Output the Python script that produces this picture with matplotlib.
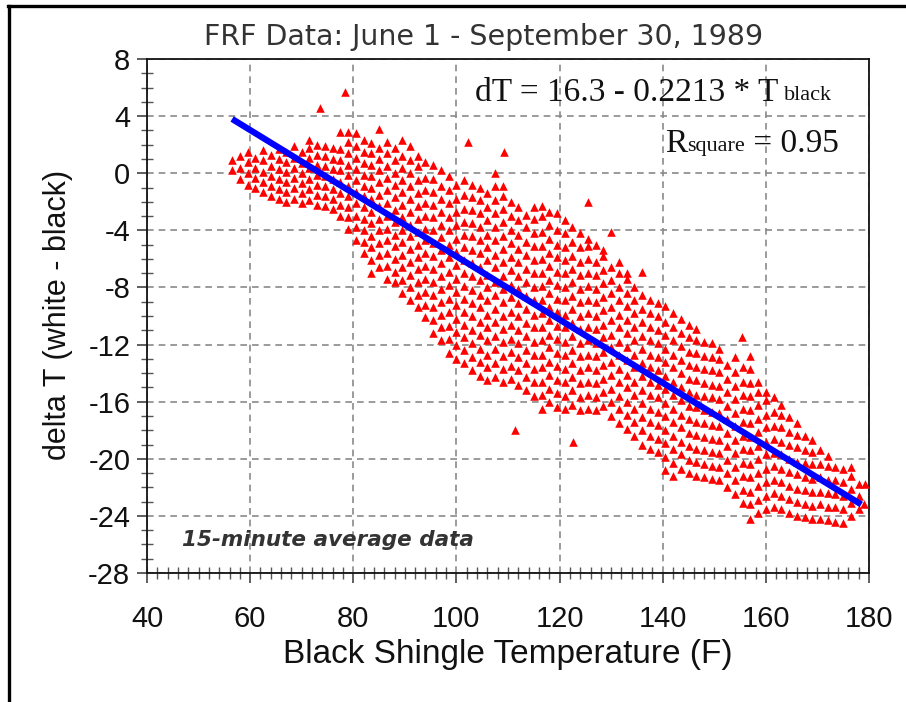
import numpy as np
import matplotlib
matplotlib.use("Agg")
import matplotlib.pyplot as plt
from matplotlib.lines import Line2D
from matplotlib.ticker import MultipleLocator

plt.rcParams['font.family'] = ['Liberation Sans', 'DejaVu Sans']
plt.rcParams['axes.unicode_minus'] = False

# black shingle temperature (F) of each scan column
temp_cols = [56.5, 58, 59.5, 61, 62.5, 64, 65.5, 67, 68.5, 70, 71.5, 73, 74.5, 76,
             77.5, 79, 80.5, 82, 83.5, 85, 86.5, 88, 89.5, 91, 92.5, 94, 95.5, 97,
             98.5, 100, 101.5, 103, 104.5, 106, 107.5, 109, 110.5, 112, 113.5, 115,
             116.5, 118, 119.5, 121, 122.5, 124, 125.5, 127, 128.5, 130, 131.5, 133,
             134.5, 136, 137.5, 139, 140.5, 142, 143.5, 145, 146.5, 148, 149.5, 151,
             152.5, 154, 155.5, 157, 158.5, 160, 161.5, 163, 164.5, 166, 167.5, 169,
             170.5, 172, 173.5, 175, 176.5, 178]

# delta T (white - black) values in each column
delta_cols = [
    [0.2, 0.9],                                                      # 56.5
    [-0.4, 0.4, 1.2],                                                # 58
    [-0.8, 0.0, 0.8, 1.5],                                           # 59.5
    [-1.0, -0.3, 0.4, 1.1],                                          # 61
    [-1.3, -0.6, 0.1, 0.9, 1.6],                                     # 62.5
    [-1.6, -0.9, -0.2, 0.5, 1.3],                                    # 64
    [-1.8, -1.1, -0.4, 0.3, 1.0, 1.7],                               # 65.5
    [-2.0, -1.3, -0.6, 0.1, 0.8, 1.5],                               # 67
    [-1.8, -1.0, -0.3, 0.4, 1.1, 1.9],                               # 68.5
    [-2.1, -1.4, -0.7, 0.0, 0.7, 1.5],                               # 70
    [-1.9, -1.1, -0.4, 0.4, 1.1, 1.8, 2.3],                          # 71.5
    [-2.2, -1.5, -0.8, -0.1, 0.6, 1.3, 2.0],                         # 73
    [-2.3, -1.6, -0.9, -0.2, 0.5, 1.2, 1.9],                         # 74.5
    [-2.5, -1.8, -1.1, -0.4, 0.3, 1.0, 1.8],                         # 76
    [-3.0, -2.2, -1.4, -0.6, 0.2, 0.9, 1.7, 2.9],                    # 77.5
    [-3.9, -3.1, -2.4, -1.6, -0.9, -0.1, 0.6, 1.4, 2.2, 2.9],        # 79
    [-4.7, -3.8, -3.0, -2.1, -1.3, -0.5, 0.3, 1.1, 1.9, 2.8],        # 80.5
    [-5.6, -4.8, -4.0, -3.2, -2.4, -1.6, -0.9, -0.1, 0.7, 1.5, 2.3], # 82
    [-7.0, -6.1, -5.2, -4.4, -3.5, -2.7, -1.8, -1.0, -0.2, 0.6, 1.4, 2.1],
    [-6.6, -5.7, -4.9, -4.0, -3.2, -2.3, -1.5, -0.6, 0.2, 1.0, 1.8, 3.1],
    [-7.4, -6.5, -5.6, -4.7, -3.9, -3.0, -2.1, -1.2, -0.3, 0.5, 1.4, 2.2],
    [-7.6, -6.9, -6.0, -5.1, -4.3, -3.4, -2.6, -1.7, -0.8, 0.0, 0.9, 1.8],
    [-8.4, -7.5, -6.6, -5.7, -4.8, -4.0, -3.1, -2.2, -1.3, -0.5, 0.4, 1.2, 2.3],
    [-8.9, -8.0, -7.1, -6.2, -5.3, -4.4, -3.6, -2.7, -1.8, -0.9, 0.0, 0.9, 1.9],
    [-9.4, -8.5, -7.6, -6.7, -5.9, -5.0, -4.1, -3.2, -2.3, -1.4, -0.5, 0.5, 1.2],
    [-10.1, -9.2, -8.3, -7.4, -6.5, -5.6, -4.7, -3.9, -3.0, -2.1, -1.2, -0.3, 0.8],
    [-11.2, -10.3, -9.4, -8.5, -7.6, -6.7, -5.8, -4.9, -4.0, -3.1, -2.2, -1.3, -0.4, 0.6],
    [-11.7, -10.8, -9.9, -9.0, -8.1, -7.2, -6.3, -5.4, -4.5, -3.6, -2.7, -1.8, -0.9, 0.2],
    [-12.6, -11.6, -10.7, -9.7, -8.8, -7.8, -6.9, -5.9, -5.0, -4.0, -3.1, -2.1, -1.2, -0.2],
    [-13.0, -12.0, -11.1, -10.2, -9.2, -8.3, -7.4, -6.4, -5.5, -4.6, -3.6, -2.7, -1.8, -0.8],
    [-13.3, -12.4, -11.5, -10.6, -9.7, -8.8, -7.9, -7.0, -6.1, -5.2, -4.3, -3.4, -2.5, -1.5, -0.5],
    [-13.8, -12.9, -11.9, -11.0, -10.0, -9.1, -8.2, -7.2, -6.3, -5.4, -4.4, -3.5, -2.6, -1.7, -0.8],
    [-14.2, -13.2, -12.3, -11.3, -10.4, -9.4, -8.5, -7.5, -6.6, -5.6, -4.7, -3.8, -2.8, -1.9, -1.0],
    [-14.5, -13.6, -12.7, -11.7, -10.8, -9.9, -8.9, -8.0, -7.1, -6.1, -5.2, -4.3, -3.3, -2.4, -1.4],
    [-14.3, -13.3, -12.3, -11.4, -10.4, -9.5, -8.5, -7.6, -6.6, -5.7, -4.7, -3.8, -2.8, -1.9, -0.9, 0.0],
    [-14.6, -13.7, -12.8, -11.8, -10.9, -10.0, -9.0, -8.1, -7.2, -6.2, -5.3, -4.4, -3.4, -2.5, -1.6, -0.9],
    [-14.4, -13.5, -12.5, -11.6, -10.6, -9.7, -8.7, -7.8, -6.8, -5.9, -4.9, -4.0, -3.0, -2.0],
    [-14.8, -13.8, -12.9, -11.9, -11.0, -10.0, -9.1, -8.1, -7.2, -6.2, -5.3, -4.3, -3.3, -2.4],
    [-15.2, -14.3, -13.3, -12.4, -11.4, -10.5, -9.5, -8.6, -7.6, -6.7, -5.7, -4.8, -3.8, -2.9],
    [-15.6, -14.6, -13.7, -12.7, -11.8, -10.8, -9.9, -8.9, -8.0, -7.0, -6.1, -5.1, -4.2, -3.2, -2.4],
    [-16.5, -15.5, -14.6, -13.6, -12.7, -11.7, -10.8, -9.8, -8.9, -7.9, -7.0, -6.0, -5.1, -4.1, -3.0, -2.3],
    [-16.0, -15.1, -14.1, -13.2, -12.2, -11.3, -10.3, -9.4, -8.4, -7.5, -6.5, -5.6, -4.6, -3.6, -2.7],
    [-16.4, -15.4, -14.5, -13.5, -12.6, -11.6, -10.7, -9.7, -8.8, -7.8, -6.9, -5.9, -5.0, -4.0, -2.8],
    [-16.5, -15.6, -14.6, -13.7, -12.7, -11.8, -10.8, -9.9, -8.9, -8.0, -7.0, -6.1, -5.2, -4.2, -3.3],
    [-16.2, -15.2, -14.3, -13.3, -12.4, -11.4, -10.5, -9.5, -8.6, -7.6, -6.7, -5.8, -4.8, -3.8],
    [-16.6, -15.7, -14.7, -13.8, -12.8, -11.9, -10.9, -10.0, -9.0, -8.1, -7.1, -6.2, -5.2, -4.2],
    [-16.5, -15.5, -14.6, -13.6, -12.7, -11.7, -10.8, -9.8, -8.9, -7.9, -7.0, -6.0, -5.1, -4.6],
    [-16.6, -15.7, -14.7, -13.8, -12.8, -11.9, -10.9, -10.0, -9.0, -8.1, -7.1, -6.2, -5.0],
    [-16.3, -15.3, -14.4, -13.4, -12.5, -11.5, -10.6, -9.6, -8.7, -7.7, -6.8, -5.8, -5.4],
    [-17.0, -16.0, -15.1, -14.1, -13.2, -12.2, -11.3, -10.3, -9.4, -8.4, -7.5, -6.6, -4.1],
    [-17.5, -16.5, -15.6, -14.6, -13.7, -12.7, -11.8, -10.8, -9.9, -8.9, -8.0, -7.0, -6.2],
    [-17.9, -16.9, -16.0, -15.0, -14.1, -13.1, -12.2, -11.2, -10.3, -9.3, -8.4, -7.4, -7.0],
    [-18.4, -17.4, -16.5, -15.5, -14.6, -13.6, -12.7, -11.7, -10.8, -9.8, -8.9, -8.0],
    [-19.0, -18.0, -17.1, -16.1, -15.2, -14.2, -13.3, -12.3, -11.4, -10.4, -9.5, -8.5, -6.9],
    [-19.3, -18.4, -17.4, -16.5, -15.5, -14.6, -13.6, -12.7, -11.7, -10.8, -9.8, -8.9],
    [-19.5, -18.6, -17.6, -16.7, -15.7, -14.8, -13.8, -12.9, -11.9, -11.0, -10.0, -9.1],
    [-20.8, -19.9, -18.9, -18.0, -17.0, -16.1, -15.1, -14.2, -13.2, -12.3, -11.3, -10.4, -9.3],
    [-21.2, -20.3, -19.3, -18.4, -17.4, -16.5, -15.5, -14.6, -13.6, -12.7, -11.7, -10.8, -9.8],
    [-20.7, -19.7, -18.8, -17.8, -16.9, -15.9, -15.0, -14.0, -13.1, -12.1, -11.2, -10.2],
    [-21.0, -20.1, -19.1, -18.2, -17.2, -16.3, -15.3, -14.4, -13.4, -12.5, -11.5, -10.6],
    [-21.2, -20.2, -19.3, -18.3, -17.4, -16.4, -15.5, -14.5, -13.6, -12.6, -11.7, -10.9],
    [-21.3, -20.4, -19.4, -18.5, -17.5, -16.6, -15.6, -14.7, -13.7, -12.8, -11.8],
    [-21.4, -20.5, -19.5, -18.6, -17.6, -16.7, -15.7, -14.8, -13.8, -12.9, -11.9],
    [-21.5, -20.6, -19.6, -18.7, -17.7, -16.8, -15.8, -14.9, -13.9, -13.0, -12.3],
    [-22.0, -21.0, -20.1, -19.1, -18.2, -17.2, -16.3, -15.3, -14.4, -13.4],
    [-22.5, -21.5, -20.6, -19.6, -18.7, -17.7, -16.8, -15.8, -14.9, -13.9, -12.9],
    [-23.1, -22.2, -21.2, -20.3, -19.3, -18.4, -17.4, -16.5, -15.5, -14.6, -13.6],
    [-24.2, -23.2, -22.3, -21.3, -20.4, -19.4, -18.5, -17.5, -16.6, -15.6, -14.7, -13.7, -12.8],
    [-23.8, -22.9, -21.9, -21.0, -20.0, -19.1, -18.1, -17.2, -16.2, -15.3, -14.6],
    [-23.5, -22.6, -21.6, -20.7, -19.7, -18.8, -17.8, -16.9, -15.9, -15.3],
    [-23.4, -22.4, -21.5, -20.5, -19.6, -18.6, -17.7, -16.7, -15.7],
    [-23.5, -22.6, -21.6, -20.7, -19.7, -18.8, -17.8, -16.9, -16.2],
    [-23.8, -22.8, -21.9, -20.9, -20.0, -19.0, -18.1, -17.1],
    [-24.0, -23.0, -22.1, -21.1, -20.2, -19.2, -18.3, -17.5],
    [-24.1, -23.2, -22.2, -21.3, -20.3, -19.4, -18.4],
    [-24.2, -23.3, -22.3, -21.4, -20.4, -19.5, -18.7],
    [-24.2, -23.2, -22.3, -21.3, -20.4, -19.4],
    [-24.3, -23.4, -22.4, -21.5, -20.5, -19.8],
    [-24.4, -23.4, -22.5, -21.5, -20.6],
    [-24.5, -23.5, -22.6, -21.6, -20.7],
    [-24.0, -23.1, -22.1, -21.2, -20.6],
    [-23.5, -22.6, -21.8],
]

# isolated points away from the main cloud
outlier_temp = [73.5, 78.4, 102.2, 109.2, 111.4, 122.7, 125.5, 155.4, 179.2, 179.0]
outlier_delta = [4.6, 5.7, 2.2, 1.5, -18.0, -18.8, -2.0, -11.5, -21.8, -23.2]

# regression line end points
fit_temp = [56.5, 178.5]
fit_delta = [3.8, -23.2]

black_temp = np.concatenate([np.full(len(d), t) for t, d in zip(temp_cols, delta_cols)]
                            + [outlier_temp])
delta_t = np.concatenate([np.array(d) for d in delta_cols] + [outlier_delta])

W, H = 906, 702
fig = plt.figure(figsize=(W / 100, H / 100), dpi=100)
ax = fig.add_axes([147 / W, 1 - 573 / H, (869 - 147) / W, (573 - 59) / H])


def fx(px):
    return px / W


def fy(py):
    return 1 - py / H


ax.scatter(black_temp, delta_t, marker='^', s=38, color='#ff0000', linewidths=0, zorder=3)
ax.plot(fit_temp, fit_delta, color='#0000ff', lw=4.5, solid_capstyle='butt', zorder=4)

ax.set_xlim(40, 180)
ax.set_ylim(-28, 8)
ax.xaxis.set_major_locator(MultipleLocator(20))
ax.xaxis.set_minor_locator(MultipleLocator(2))
ax.yaxis.set_major_locator(MultipleLocator(4))
ax.yaxis.set_minor_locator(MultipleLocator(1))
ax.grid(True, which='major', color='#8a8a8a', linestyle=(0, (4, 3)), linewidth=1.2, zorder=1)
ax.set_axisbelow(True)

for side in ['top', 'right', 'left', 'bottom']:
    ax.spines[side].set_color('#111111')
    ax.spines[side].set_linewidth(1.3)

ax.tick_params(axis='both', which='major', direction='out', length=7, width=1.1,
               color='#333333', labelsize=21, labelcolor='#111111')
ax.tick_params(axis='both', which='minor', direction='inout', length=8, width=1.0,
               color='#555555')
ax.tick_params(axis='x', which='major', pad=16)
ax.tick_params(axis='y', which='major', pad=5)

# titles and labels
fig.text(fx(484), fy(37), 'FRF Data: June 1 - September 30, 1989', ha='center', va='center',
         fontsize=20.5, color='#333333', family='DejaVu Sans')
fig.text(fx(508), fy(655), 'Black Shingle Temperature (F)', ha='center', va='center',
         fontsize=24, color='#111111')
fig.text(fx(58), fy(315), 'delta T (white - black)', ha='center', va='center',
         rotation=90, fontsize=22, color='#111111')

# regression text
eq = fig.text(fx(475), fy(101), 'dT = 16.3 - 0.2213 * T', ha='left', va='baseline',
              fontsize=24, family='Liberation Serif', color='#111111')
ax.annotate('black', xy=(1, 0), xycoords=eq, xytext=(4, 2), textcoords='offset points',
            ha='left', va='bottom', fontsize=16, family='Liberation Serif', color='#111111')
rs = fig.text(fx(665), fy(152), 'R', ha='left', va='baseline',
              fontsize=24, family='Liberation Serif', color='#111111')
sq = ax.annotate('square', xy=(1, 0), xycoords=rs, xytext=(0, 2), textcoords='offset points',
                 ha='left', va='bottom', fontsize=16, family='Liberation Serif', color='#111111')
ax.annotate(' = 0.95', xy=(1, 0), xycoords=sq, xytext=(0, -2), textcoords='offset points',
            ha='left', va='bottom', fontsize=24, family='Liberation Serif', color='#111111')

fig.text(fx(182), fy(540), '15-minute average data', ha='left', va='center',
         fontsize=15.5, style='italic', weight='bold', color='#333333', family='DejaVu Sans')

# outer frame (top and left edges)
fig.add_artist(Line2D([fx(8), 1], [fy(6), fy(6)], color='black', lw=2.4))
fig.add_artist(Line2D([fx(9), fx(9)], [fy(6), 0], color='black', lw=2.4))

fig.savefig('out.png', dpi=100)
